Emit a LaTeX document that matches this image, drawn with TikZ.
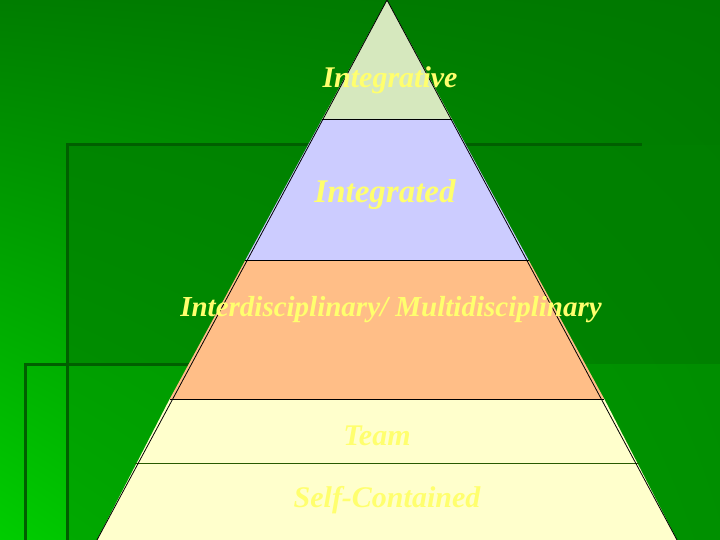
\documentclass[tikz,border=0pt]{standalone}
\usepackage{fontspec}
\usetikzlibrary{shadings}
\setmainfont{Liberation Serif}
\definecolor{g1}{RGB}{0,125,0}
\definecolor{g2}{RGB}{0,120,0}
\definecolor{g3}{RGB}{0,205,0}
\definecolor{g4}{RGB}{0,135,0}
\definecolor{gin}{RGB}{0,128,0}
\definecolor{gin2}{RGB}{0,150,0}
\definecolor{gfr}{RGB}{0,95,0}
\definecolor{gln}{RGB}{40,90,0}
\definecolor{c1}{RGB}{214,232,190}
\definecolor{c2}{RGB}{204,204,255}
\definecolor{c3}{RGB}{255,190,135}
\definecolor{c4}{RGB}{255,255,204}
\definecolor{ty}{RGB}{255,255,110}
\begin{document}
\begin{tikzpicture}[x=1pt,y=-1pt,
  band/.style={draw=black,line width=0.8pt},
  lbl/.style={text=ty, inner sep=0pt},
  frame/.style={draw=gfr,line width=3pt}]
\useasboundingbox (0,0) rectangle (720,540);
\shade[upper left=g1,upper right=g2,lower left=g3,lower right=g4] (0,0) rectangle (720,540);
\fill[gin,opacity=0.7] (67,145) rectangle (720,364);
\fill[gin2,opacity=0.6] (67,364) rectangle (720,540);
\draw[frame] (67,540) -- (67,145) -- (642,145);
\draw[frame] (25,540) -- (25,364) -- (190,364);
\coordinate (A) at (387,0);
\coordinate (L) at (97,540);
\coordinate (R) at (677,540);
\fill[c1] (387,0) -- (322.2,119) -- (451.8,119) -- cycle;
\fill[c2] (322.2,119) -- (245.4,260) -- (528.6,260) -- (451.8,119) -- cycle;
\fill[c3] (245.4,260) -- (169.7,399) -- (604.3,399) -- (528.6,260) -- cycle;
\fill[c4] (169.7,399) -- (L) -- (R) -- (604.3,399) -- cycle;
\draw[band] (322.2,119) -- (451.8,119);
\draw[band] (245.4,260) -- (528.6,260);
\draw[band] (169.7,399) -- (604.3,399);
\draw[band,draw=gln] (135,463) -- (639,463);
\draw[band] (L) -- (A) -- (R);
\node[lbl,font=\fontsize{30}{32}\selectfont\bfseries\itshape] (t1) at (390,80) {Integrative};
\node[lbl,font=\fontsize{33}{35}\selectfont\bfseries\itshape] (t2) at (385,195) {Integrated};
\node[lbl,font=\fontsize{29}{31}\selectfont\bfseries\itshape] (t3) at (391,310) {Interdisciplinary/ Multidisciplinary};
\node[lbl,font=\fontsize{30}{32}\selectfont\bfseries\itshape] (t4) at (377,436) {Team};
\node[lbl,font=\fontsize{30}{32}\selectfont\bfseries\itshape] (t5) at (387,500) {Self-Contained};
\end{tikzpicture}
\end{document}
